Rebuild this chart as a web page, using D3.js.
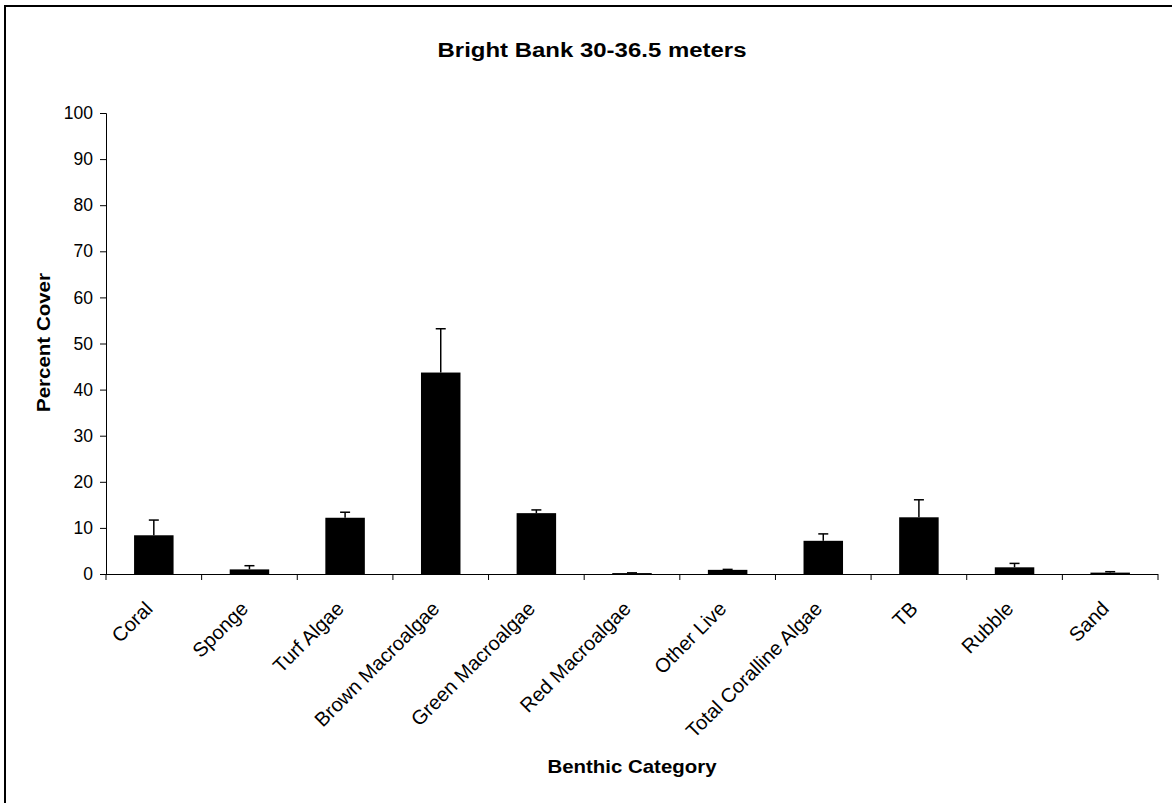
<!DOCTYPE html>
<html><head><meta charset="utf-8">
<script src="https://cdn.jsdelivr.net/npm/d3@7"></script>
<style>body{margin:0;background:#fff}svg{display:block}text{font-family:Arial,"Liberation Sans",sans-serif;fill:#000}</style>
</head><body>
<svg id="c" width="1172" height="803"></svg>
<script>
const categories = ["Coral","Sponge","Turf Algae","Brown Macroalgae","Green Macroalgae","Red Macroalgae","Other Live","Total Coralline Algae","TB","Rubble","Sand"];
const meanValues = [8.4, 1.0, 12.2, 43.7, 13.2, 0.2, 0.9, 7.2, 12.3, 1.45, 0.3];
const errorTops = [11.7, 1.8, 13.4, 53.2, 13.9, 0.25, 1.0, 8.7, 16.1, 2.3, 0.5];
const yTicks = [0,10,20,30,40,50,60,70,80,90,100];
const titleText = "Bright Bank 30-36.5 meters";
const xTitle = "Benthic Category";
const yTitle = "Percent Cover";

const svg = d3.select("#c");
svg.append("rect").attr("x",5).attr("y",6).attr("width",1180).attr("height",820)
  .attr("fill","none").attr("stroke","#000").attr("stroke-width",2);

const L=106, R=1158, T=113, B=574;
const x = d3.scaleBand().domain(categories).range([L,R]).paddingInner(0.587).paddingOuter(0.2935);
const xb = d3.scaleBand().domain(categories).range([L,R]);
const y = d3.scaleLinear().domain([0,100]).range([B,T]);

// bars
svg.append("g").selectAll("rect").data(categories).join("rect")
  .attr("x",d=>x(d)).attr("width",x.bandwidth())
  .attr("y",(d,i)=>y(meanValues[i])).attr("height",(d,i)=>B-y(meanValues[i]))
  .attr("fill","#000");

// error bars
const eg = svg.append("g").attr("stroke","#000").attr("stroke-width",1.5);
categories.forEach((c,i)=>{
  const cx = x(c)+x.bandwidth()/2;
  eg.append("line").attr("x1",cx).attr("x2",cx).attr("y1",y(meanValues[i])).attr("y2",y(errorTops[i]));
  eg.append("line").attr("x1",cx-5).attr("x2",cx+5).attr("y1",y(errorTops[i])).attr("y2",y(errorTops[i]));
});

// y axis
const ya = svg.append("g").attr("transform",`translate(${L},0)`)
  .call(d3.axisLeft(y).tickValues(yTicks).tickSize(6).tickPadding(7).tickFormat(d3.format("d")));
ya.selectAll("text").style("font-size","17.5px");
ya.select(".domain").attr("stroke","#000");
ya.selectAll(".tick line").attr("stroke","#000");

// x axis with ticks at band boundaries
const xg = svg.append("g");
xg.append("line").attr("x1",L).attr("x2",R).attr("y1",B+0.5).attr("y2",B+0.5).attr("stroke","#000");
const bounds = categories.map(c=>xb(c)).concat([R]);
xg.selectAll("line.t").data(bounds).join("line").attr("class","t")
  .attr("x1",d=>d).attr("x2",d=>d).attr("y1",B).attr("y2",B+6).attr("stroke","#000");
xg.selectAll("text").data(categories).join("text")
  .attr("transform",d=>`translate(${xb(d)+xb.bandwidth()/2},${B+36}) rotate(-45)`)
  .attr("text-anchor","end").style("font-size","20px").text(d=>d);

// titles
svg.append("text").attr("x",592).attr("y",57).attr("text-anchor","middle")
  .attr("textLength",309).attr("lengthAdjust","spacingAndGlyphs")
  .style("font-size","19.5px").style("font-weight","bold").text(titleText);
svg.append("text").attr("x",632).attr("y",773).attr("text-anchor","middle")
  .attr("textLength",169).attr("lengthAdjust","spacingAndGlyphs")
  .style("font-size","19px").style("font-weight","bold").text(xTitle);
svg.append("text").attr("transform",`translate(50,342.5) rotate(-90)`).attr("text-anchor","middle")
  .attr("textLength",139).attr("lengthAdjust","spacingAndGlyphs")
  .style("font-size","18.5px").style("font-weight","bold").text(yTitle);
</script>
</body></html>
